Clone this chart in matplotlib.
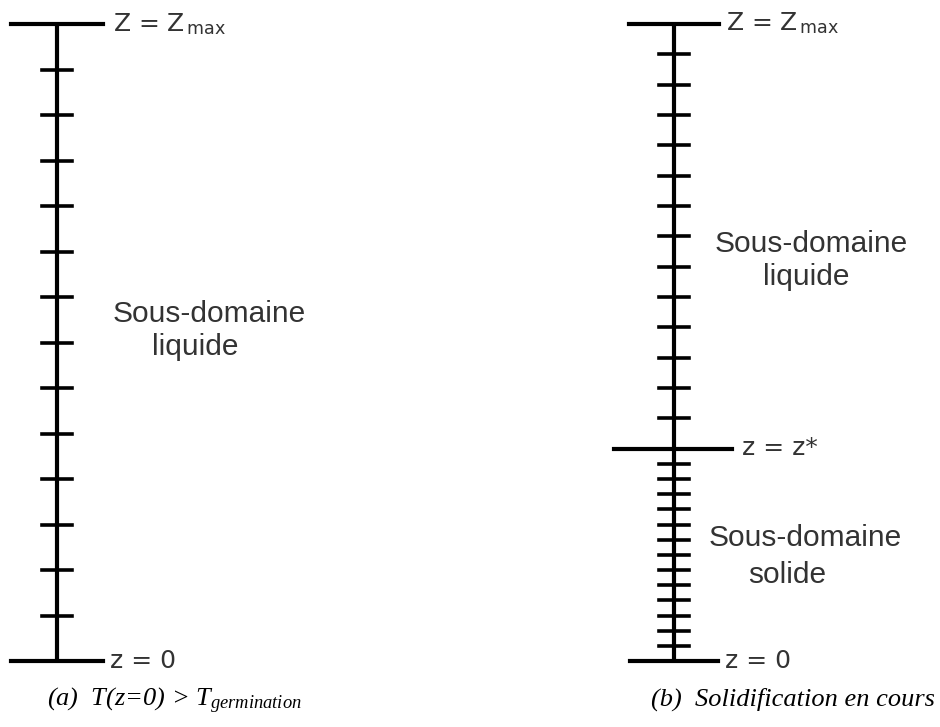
import numpy as np
import matplotlib.pyplot as plt

plt.rcParams['mathtext.fontset'] = 'custom'
plt.rcParams['mathtext.it'] = 'Liberation Serif:italic'
plt.rcParams['mathtext.rm'] = 'Liberation Serif'

# mesh definition (z normalised so that z_max = 1)
z_max = 1.0
n_cells_a = 14          # (a) single liquid sub-domain
z_star = 1.0 / 3.0      # (b) solidification front position
n_cells_liquid = 14     # (b) cells above z*
n_cells_solid = 14      # (b) cells below z*

nodes_a = np.linspace(0, z_max, n_cells_a + 1)
nodes_liq = np.linspace(z_star, z_max, n_cells_liquid + 1)
nodes_sol = np.linspace(0, z_star, n_cells_solid + 1)

label_top = r'Z = Z$_{\,\mathregular{max}}$'
label_bot = 'z = 0'
label_star = 'z = z*'
captions = [r'(a)  T(z=0) > T$_{germination}$', '(b)  Solidification en cours']
region_liq = ['Sous-domaine', 'liquide']
region_sol = ['Sous-domaine', 'solide']

# figure in pixel-like x units, z units vertically
W, H = 940, 727
y_top_px, y_bot_px = 24, 661
px = 1.0 / (y_bot_px - y_top_px)          # one pixel in z units


def zp(y):
    # picture row -> z
    return (y_bot_px - y) * px


fig = plt.figure(figsize=(W / 100, H / 100), dpi=100)
ax = fig.add_axes([0, 0, 1, 1])
ax.set_xlim(0, W)
ax.set_ylim(zp(H), zp(0))
ax.axis('off')

lw_main = 3.0
lw_tick = 2.6
tick_half = 15
ink = 'black'
txt = '#333333'
lab_kw = dict(fontsize=18, family='DejaVu Sans', color=txt, va='baseline')
body_kw = dict(fontsize=21.5, family='Liberation Sans', color=txt, va='baseline')
cap_kw = dict(fontsize=19, family='Liberation Serif', style='italic', color='black', va='baseline')


def column(x0, nodes, bar_half_top, bar_half_bot):
    ax.plot([x0, x0], [nodes.min(), nodes.max()], color=ink, lw=lw_main, solid_capstyle='butt')
    ax.plot([x0 - bar_half_top, x0 + bar_half_top], [nodes.max()] * 2, color=ink, lw=lw_main)
    ax.plot([x0 - bar_half_bot, x0 + bar_half_bot], [nodes.min()] * 2, color=ink, lw=lw_main)
    for z in nodes[1:-1]:
        ax.plot([x0 - tick_half, x0 + tick_half], [z, z], color=ink, lw=lw_tick)


# ---- (a) ----
xa = 57
column(xa, nodes_a, 46, 46)
ax.text(113, zp(31), label_top, **lab_kw)
ax.text(110, zp(668), label_bot, **lab_kw)
ax.text(113, zp(322), region_liq[0], **body_kw)
ax.text(152, zp(355), region_liq[1], **body_kw)
ax.text(47, zp(706), captions[0], **cap_kw)

# ---- (b) ----
xb = 674
allnodes_b = np.concatenate([nodes_sol, nodes_liq[1:]])
column(xb, allnodes_b, 45, 44)
ax.plot([xb - 60, xb + 58], [z_star, z_star], color=ink, lw=lw_main)
ax.text(726, zp(30), label_top, **lab_kw)
ax.text(742, zp(455), label_star, **lab_kw)
ax.text(725, zp(668), label_bot, **lab_kw)
ax.text(715, zp(252), region_liq[0], **body_kw)
ax.text(763, zp(285), region_liq[1], **body_kw)
ax.text(709, zp(546), region_sol[0], **body_kw)
ax.text(748, zp(583), region_sol[1], **body_kw)
ax.text(935, zp(706), captions[1], ha='right', **{k: v for k, v in cap_kw.items()})

fig.savefig('out.png', dpi=100, facecolor='white')
